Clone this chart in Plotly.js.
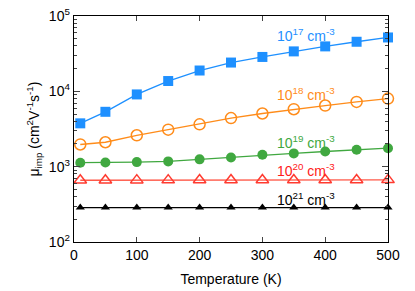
<!DOCTYPE html>
<html>
<head>
<meta charset="utf-8">
<script src="https://cdn.plot.ly/plotly-3.0.1.min.js"></script>
<style>html,body{margin:0;padding:0;background:#fff;}#chart{width:415px;height:291px;}</style>
</head>
<body>
<div id="chart"></div>
<script>
const temperature = [10, 50, 100, 150, 200, 250, 300, 350, 400, 450, 500];
const mu_1e17 = [3760, 5350, 9100, 13700, 18900, 24100, 28600, 33900, 39500, 45500, 51900];
const mu_1e18 = [1970, 2110, 2610, 3100, 3650, 4410, 5080, 5790, 6480, 7240, 8020];
const mu_1e19 = [1130, 1135, 1150, 1175, 1250, 1325, 1440, 1500, 1590, 1675, 1760];
const mu_1e20 = [660, 661, 662, 663, 664, 665, 665, 666, 667, 667, 668];
const mu_1e21 = [286, 286, 286, 286, 286, 286, 286, 286, 286, 286, 286];
const seriesLabels = ["10<sup>17</sup> cm<sup>-3</sup>", "10<sup>18</sup> cm<sup>-3</sup>", "10<sup>19</sup> cm<sup>-3</sup>", "10<sup>20</sup> cm<sup>-3</sup>", "10<sup>21</sup> cm<sup>-3</sup>"];
const xTicks = [0, 100, 200, 300, 400, 500];
const yTickVals = [100, 1000, 10000, 100000];
const yTickText = ["10<sup>2</sup>", "10<sup>3</sup>", "10<sup>4</sup>", "10<sup>5</sup>"];

const styles = [
  {line: '#1E90FF', marker: {symbol: 'square', size: 10, color: '#1E90FF'}, text: '#1E90FF', y: 0.915},
  {line: '#FF8C1A', marker: {symbol: 'circle-open', size: 11, color: '#FF8C1A', line: {width: 1.5, color: '#FF8C1A'}}, text: '#FF8C1A', y: 0.655},
  {line: '#40A840', marker: {symbol: 'circle', size: 10, color: '#40A840'}, text: '#40A840', y: 0.443},
  {line: '#FF5A4A', marker: {symbol: 'triangle-up-open', size: 11, color: '#FF3B30', line: {width: 1.5, color: '#FF3B30'}}, text: '#FF1A1A', y: 0.32},
  {line: '#000000', marker: {symbol: 'triangle-up', size: 8, color: '#000000'}, text: '#000000', y: 0.19}
];
const allY = [mu_1e17, mu_1e18, mu_1e19, mu_1e20, mu_1e21];

const traces = allY.map((ys, i) => ({
  x: temperature, y: ys, type: 'scatter', mode: 'lines+markers',
  line: {color: styles[i].line, width: 1.3},
  marker: styles[i].marker,
  showlegend: false, cliponaxis: false
}));

const annotations = seriesLabels.map((t, i) => ({
  text: t, xref: 'paper', yref: 'paper', x: 0.64, y: styles[i].y,
  xanchor: 'left', yanchor: 'middle', showarrow: false,
  font: {family: 'Liberation Sans, Arial, sans-serif', size: 14, color: styles[i].text}
}));

const layout = {
  width: 415, height: 291,
  margin: {l: 74, r: 27, t: 16, b: 49, pad: 0},
  paper_bgcolor: '#fff', plot_bgcolor: '#fff',
  font: {family: 'Liberation Sans, Arial, sans-serif', size: 14, color: '#000'},
  xaxis: {
    range: [0, 500], tickvals: xTicks, ticks: 'inside', ticklen: 5, tickwidth: 1,
    showline: true, linecolor: '#000', linewidth: 1.3, mirror: 'ticks',
    showgrid: false, zeroline: false,
    title: {text: 'Temperature (K)', font: {size: 14}, standoff: 12},
    tickfont: {size: 14}
  },
  yaxis: {
    type: 'log', range: [2, 5], tickvals: yTickVals, ticktext: yTickText,
    ticks: 'inside', ticklen: 6, tickwidth: 1,
    minor: {ticks: 'inside', ticklen: 3, tickwidth: 1, dtick: 'D1', showgrid: false},
    showline: true, linecolor: '#000', linewidth: 1.3, mirror: 'ticks',
    showgrid: false, zeroline: false,
    title: {text: 'μ<sub>imp</sub> (cm<sup>2</sup>V<sup>-1</sup>s<sup>-1</sup>)', font: {size: 14}, standoff: 6},
    tickfont: {size: 14}
  },
  annotations: annotations
};

Plotly.newPlot('chart', traces, layout, {displayModeBar: false, staticPlot: true});
</script>
</body>
</html>
